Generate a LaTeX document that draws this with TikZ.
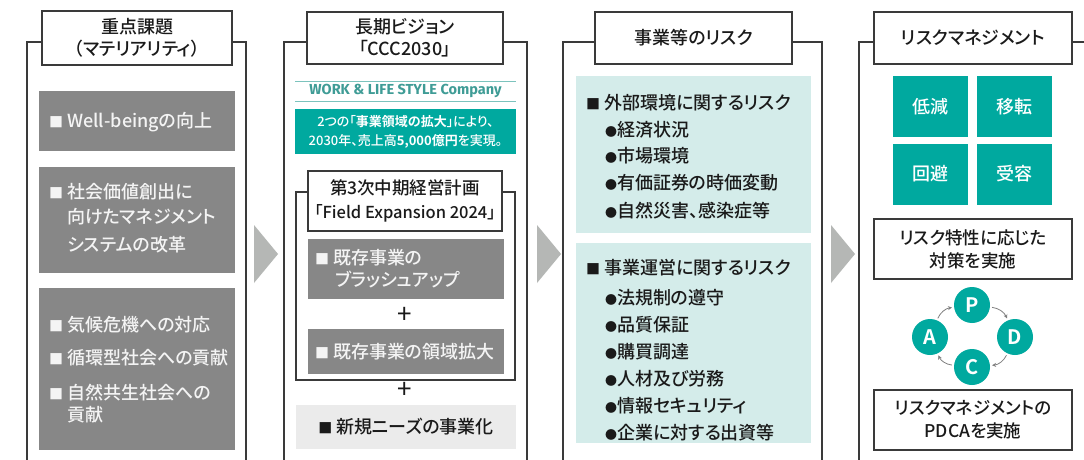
\documentclass[tikz,border=0pt]{standalone}
\usepackage{fontspec}
\usetikzlibrary{arrows.meta}
\setmainfont{Noto Sans CJK JP Medium}[RawFeature=+palt, BoldFont={Noto Sans CJK JP Bold}]
\newfontfamily\hdf{Noto Sans CJK JP Medium}[RawFeature=+palt]
\newfontfamily\rgf{Noto Sans CJK JP}[RawFeature=+palt]
\newfontfamily\wkf{Fira Sans}
\definecolor{framec}{HTML}{3A3A3A}
\definecolor{boxgray}{HTML}{878787}
\definecolor{wtext}{HTML}{F4F4F4}
\definecolor{tealc}{HTML}{00A99F}
\definecolor{tealtext}{HTML}{3F9C96}
\definecolor{teallin}{HTML}{7CC3BD}
\definecolor{ltteal}{HTML}{D4ECEA}
\definecolor{ltgray}{HTML}{EBEBEB}
\definecolor{chevc}{HTML}{B5B7B5}
\definecolor{txtc}{HTML}{1A1A1A}
\definecolor{cycc}{HTML}{7F7F7F}
\newcommand{\sqm}{{\fontsize{14}{14}\selectfont ■}}
\newcommand{\blt}{{\fontsize{12}{12}\selectfont ●}}
\tikzset{
  frame/.style={draw=framec, line width=1.3pt},
  hdr/.style={draw=framec, fill=white, line width=1.3pt, inner sep=0, align=center, text=txtc, font=\hdf\fontsize{18}{22.5}\selectfont},
  gbox/.style={fill=boxgray, inner sep=0},
  tbox/.style={fill=ltteal, inner sep=0},
  wline/.style={inner sep=0, anchor=west, text=wtext, font=\fontsize{18}{22}\selectfont},
  bline/.style={inner sep=0, anchor=west, text=txtc, font=\fontsize{18}{22}\selectfont},
  sq/.style={fill=tealc, inner sep=0, minimum width=75pt, minimum height=61pt, text=white, font=\hdf\fontsize{18}{22}\selectfont},
  wbox/.style={draw=framec, fill=white, line width=1.3pt, inner sep=0, minimum width=198pt, minimum height=60pt, align=center, text=txtc, font=\fontsize{17.5}{23}\selectfont},
  circ/.style={circle, fill=tealc, minimum size=36pt, inner sep=0, text=white, font=\bfseries\fontsize{20}{20}\selectfont},
  cyc/.style={draw=cycc, line width=0.8pt, -{Stealth[length=4pt,width=4pt]}, shorten <=2pt, shorten >=2pt},
  chev/.style={fill=chevc},
  plus/.style={inner sep=0, text=txtc, font=\rgf\fontsize{26}{26}\selectfont},
}
\begin{document}
\begin{tikzpicture}[x=1pt,y=1pt]
\useasboundingbox (0,0) rectangle (1084,-460);
\fill[white] (0,0) rectangle (1084,-460);

% ---------- column 1 ----------
\draw[frame] (27,-460) -- (27,-42) -- (246,-42) -- (246,-460);
\node[hdr, minimum width=190pt, minimum height=54pt] (h1) at (137,-38) {重点課題\\（マテリアリティ）};
\node[gbox, minimum width=196pt, minimum height=60pt] (g1) at (137,-121) {};
\node[wline] (g1a) at (49,-122) {\sqm\ Well-beingの向上};
\node[gbox, minimum width=196pt, minimum height=106pt] (g2) at (137,-220) {};
\node[wline] (g2a) at (49,-192) {\sqm\ 社会価値創出に};
\node[wline] (g2b) at (67,-217) {向けたマネジメント};
\node[wline] (g2c) at (67,-245) {システムの改革};
\node[gbox, minimum width=196pt, minimum height=162pt] (g3) at (137,-369) {};
\node[wline] (g3a) at (49,-325) {\sqm\ 気候危機への対応};
\node[wline] (g3b) at (49,-358) {\sqm\ 循環型社会への貢献};
\node[wline] (g3c) at (49,-393) {\sqm\ 自然共生社会への};
\node[wline] (g3d) at (67,-415) {貢献};

\fill[chev] (254,-225) -- (278,-254) -- (254,-283) -- cycle;

% ---------- column 2 ----------
\draw[frame] (284,-460) -- (284,-42) -- (527,-42) -- (527,-460);
\node[hdr, minimum width=196pt, minimum height=52pt] (h2) at (405,-38) {長期ビジョン\\「CCC2030」};
\draw[teallin, line width=1pt] (295,-81) -- (516,-81);
\draw[teallin, line width=1pt] (295,-101) -- (516,-101);
\node[inner sep=0, text=tealtext, font=\wkf\bfseries\fontsize{14.5}{16}\selectfont] (wk) at (405.5,-91) {WORK \& LIFE STYLE Company};
\node[fill=tealc, inner sep=0, minimum width=221pt, minimum height=45pt, align=center, text=white, font=\fontsize{13}{19}\selectfont] (vis) at (405.5,-131.5) {2つの「{\bfseries 事業領域の拡大}」により、\\2030年、売上高{\bfseries 5,000億円}を実現。};
\draw[frame] (296,-192) rectangle (515,-380);
\node[hdr, minimum width=194pt, minimum height=60pt, font=\hdf\fontsize{17.5}{24}\selectfont] (h2b) at (405,-201) {第3次中期経営計画\\{\fontsize{16.5}{20}\selectfont「Field Expansion 2024」}};
\node[gbox, minimum width=196pt, minimum height=60pt] (ga) at (406,-269) {};
\node[wline] (gaa) at (315,-258) {\sqm\ 既存事業の};
\node[wline] (gab) at (335,-279) {ブラッシュアップ};
\node[plus] (p1) at (405,-315) {+};
\node[gbox, minimum width=196pt, minimum height=45pt] (gb) at (406,-351.5) {};
\node[wline] (gba) at (315,-352) {\sqm\ 既存事業の領域拡大};
\node[plus] (p2) at (405,-390) {+};
\node[fill=ltgray, inner sep=0, minimum width=220pt, minimum height=44pt, text=txtc, font=\fontsize{18}{22}\selectfont] (nb) at (406,-427) {\sqm\ 新規ニーズの事業化};

\fill[chev] (537,-225) -- (561,-254) -- (537,-283) -- cycle;

% ---------- column 3 ----------
\draw[frame] (563,-460) -- (563,-42) -- (822,-42) -- (822,-460);
\node[hdr, minimum width=197pt, minimum height=52pt] (h3) at (693.5,-38) {事業等のリスク};
\node[tbox, minimum width=235pt, minimum height=157pt] (t1) at (693.5,-154.5) {};
\node[bline] (t1a) at (586,-103) {\sqm\ 外部環境に関するリスク};
\node[bline] (t1b) at (605,-130) {\blt 経済状況};
\node[bline] (t1c) at (605,-156) {\blt 市場環境};
\node[bline] (t1d) at (605,-183) {\blt 有価証券の時価変動};
\node[bline] (t1e) at (605,-211) {\blt 自然災害、感染症等};
\node[tbox, minimum width=235pt, minimum height=200pt] (t2) at (693.5,-343) {};
\node[bline] (t2a) at (586,-268) {\sqm\ 事業運営に関するリスク};
\node[bline] (t2b) at (605,-298) {\blt 法規制の遵守};
\node[bline] (t2c) at (605,-325) {\blt 品質保証};
\node[bline] (t2d) at (605,-352) {\blt 購買調達};
\node[bline] (t2e) at (605,-379) {\blt 人材及び労務};
\node[bline] (t2f) at (605,-406) {\blt 情報セキュリティ};
\node[bline] (t2g) at (605,-433) {\blt 企業に対する出資等};

\fill[chev] (831,-225) -- (855,-254) -- (831,-283) -- cycle;

% ---------- column 4 ----------
\draw[frame] (859,-460) -- (859,-42) -- (1084,-42);
\node[hdr, minimum width=198pt, minimum height=52pt] (h4) at (973,-38) {リスクマネジメント};
\node[sq] (s1) at (930.5,-106.5) {低減};
\node[sq] (s2) at (1014,-106.5) {移転};
\node[sq] (s3) at (930.5,-174) {回避};
\node[sq] (s4) at (1014,-174) {受容};
\node[wbox] (r1) at (973,-249) {リスク特性に応じた\\対策を実施};
\node[circ] (P) at (972,-305) {P};
\node[circ] (D) at (1015,-337) {D};
\node[circ] (C) at (972,-367) {C};
\node[circ] (A) at (930,-337) {A};
\draw[cyc] (P) to[bend left=30] (D);
\draw[cyc] (D) to[bend left=30] (C);
\draw[cyc] (C) to[bend left=30] (A);
\draw[cyc] (A) to[bend left=30] (P);
\node[wbox] (r2) at (973,-420) {リスクマネジメントの\\PDCAを実施};
\end{tikzpicture}
\end{document}
